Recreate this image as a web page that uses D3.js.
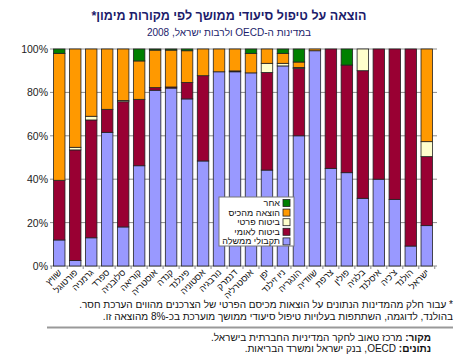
<!DOCTYPE html>
<html>
<head>
<meta charset="utf-8">
<script src="https://cdn.jsdelivr.net/npm/d3@7"></script>
<style>
  body { margin: 0; background: #fff; }
  text { font-family: "Liberation Sans", Arial, sans-serif; }
</style>
</head>
<body>
<script>
// values per country, percent of spending by source
const countries = ["שוויץ", "פורטוגל", "גרמניה", "ספרד", "סלובניה", "קוריאה", "אוסטריה", "קנדה",
    "פינלנד", "אסטוניה", "נורבגיה", "דנמרק", "אוסטרליה", "יפן", "ניו זילנד", "הונגריה",
    "שוודיה", "צרפת", "פולין", "בלגיה", "איסלנד", "צ'כיה", "הולנד", "ישראל"]
const gov         = [12, 2.5, 13, 61.6, 18, 46.2, 81, 82, 77, 48.4, 89.5, 89.5, 89, 44.2, 92.2, 60, 99.2, 45, 43, 31.2, 40, 30.7, 9.2, 18.6]
const nationalIns = [27.5, 51, 54.3, 10.6, 57.7, 30.6, 1.2, 0.5, 7.6, 39.3, 0, 0.4, 0, 45, 0, 31, 0, 55, 49.6, 58.8, 60, 69.3, 90.8, 31.8]
const privateIns  = [0, 1.2, 1.7, 0, 0.6, 0, 0, 0, 0, 0, 0, 0, 0, 4.2, 1.2, 0.5, 0, 0, 0, 10, 0, 0, 0, 6.9]
const outOfPocket = [58.5, 45.3, 31, 27.8, 23.7, 17.7, 17.3, 17, 14.6, 12.3, 10.5, 10.1, 9, 6.6, 4.6, 2.5, 0.8, 0, 0, 0, 0, 0, 0, 42.7]
const other       = [2, 0, 0, 0, 0, 5.5, 0.5, 0.5, 0.8, 0, 0, 0, 2, 0, 2, 6, 0, 0, 7.4, 0, 0, 0, 0, 0]

const seriesKeys = ["gov", "nationalIns", "privateIns", "outOfPocket", "other"]
const seriesNames = ["תקבולי ממשלה", "ביטוח לאומי", "ביטוח פרטי", "הוצאה מהכיס", "אחר"]
const seriesColors = ["#9999ff", "#990033", "#ffffcc", "#ff9900", "#008000"]
const yTicks = [0, 20, 40, 60, 80, 100]

const W = 458, H = 362
const navy = "#1c1c6b"

let rows = countries.map((c, i) => ({
    country: c, gov: gov[i], nationalIns: nationalIns[i], privateIns: privateIns[i],
    outOfPocket: outOfPocket[i], other: other[i]
}))

let svg = d3.select("body")
    .append("svg")
    .attr("width", W)
    .attr("height", H)

let x = d3.scaleBand()
    .domain(countries)
    .range([49, 437])
    .padding(0.28)

let y = d3.scaleLinear()
    .domain([0, 100])
    .range([266, 49])

// title
svg.append("text")
    .attr("x", 229).attr("y", 20)
    .attr("text-anchor", "middle")
    .attr("direction", "rtl")
    .style("font-size", "12.5px")
    .style("font-weight", "bold")
    .style("fill", navy)
    .text("הוצאה על טיפול סיעודי ממושך לפי מקורות מימון*")

svg.append("text")
    .attr("x", 229).attr("y", 35.5)
    .attr("text-anchor", "middle")
    .attr("direction", "rtl")
    .style("font-size", "10px")
    .style("fill", navy)
    .text("במדינות ה-OECD ולרבות ישראל, 2008")

// grid
svg.append("g")
    .selectAll("line")
    .data(yTicks)
    .join("line")
    .attr("x1", 50).attr("x2", 437)
    .attr("y1", d => y(d)).attr("y2", d => y(d))
    .style("stroke", "#8c8c8c")
    .style("stroke-width", 1)

svg.append("g")
    .selectAll("text")
    .data(yTicks)
    .join("text")
    .attr("x", 48)
    .attr("y", d => y(d) + 4)
    .attr("text-anchor", "end")
    .style("font-size", "10.5px")
    .style("fill", "#222")
    .text(d => d + "%")

// small ticks under the baseline
svg.append("g")
    .selectAll("line")
    .data(d3.range(countries.length + 1))
    .join("line")
    .attr("x1", i => 49 + i * x.step() + x.step() * 0.14)
    .attr("x2", i => 49 + i * x.step() + x.step() * 0.14)
    .attr("y1", y(0)).attr("y2", y(0) + 3)
    .style("stroke", "#8c8c8c")

// bars
let stacked = d3.stack().keys(seriesKeys)(rows)

svg.append("g")
    .selectAll("g")
    .data(stacked)
    .join("g")
    .style("fill", (d, i) => seriesColors[i])
    .selectAll("rect")
    .data(d => d.filter(p => p[1] - p[0] > 0))
    .join("rect")
    .attr("x", d => x(d.data.country))
    .attr("y", d => y(d[1]))
    .attr("width", x.bandwidth())
    .attr("height", d => y(d[0]) - y(d[1]))
    .style("stroke", "#222")
    .style("stroke-width", 0.8)

// country labels
svg.append("g")
    .selectAll("text")
    .data(countries)
    .join("text")
    .attr("transform", d => "translate(" + (x(d) + x.bandwidth() / 2 + 3) + "," + (y(0) + 7) + ") rotate(-45)")
    .attr("text-anchor", "end")
    .style("font-size", "9px")
    .style("fill", "#111")
    .text(d => d)

// legend
let lg = svg.append("g")
lg.append("rect")
    .attr("x", 219).attr("y", 197)
    .attr("width", 75).attr("height", 49)
    .style("fill", "#fff")
    .style("stroke", "#777")
    .style("stroke-width", 1)

let order = [4, 3, 2, 1, 0]
order.forEach((s, k) => {
    let cy = 203 + k * 9.6
    lg.append("rect")
        .attr("x", 283).attr("y", cy - 3.5)
        .attr("width", 7).attr("height", 7)
        .style("fill", seriesColors[s])
        .style("stroke", "#222")
        .style("stroke-width", 0.8)
    lg.append("text")
        .attr("x", 280).attr("y", cy + 3)
        .attr("text-anchor", "end")
        .style("font-size", "9px")
        .style("fill", "#111")
        .text(seriesNames[s])
})

// footnote
svg.append("text")
    .attr("x", 453).attr("y", 308)
    .attr("direction", "rtl")
    .attr("text-anchor", "start")
    .style("font-size", "10px")
    .style("fill", "#111")
    .text("* עבור חלק מהמדינות הנתונים על הוצאות מכיסם הפרטי של הצרכנים מהווים הערכת חסר.")

svg.append("text")
    .attr("x", 453).attr("y", 320)
    .attr("direction", "rtl")
    .attr("text-anchor", "start")
    .style("font-size", "10px")
    .style("fill", "#111")
    .text("בהולנד, לדוגמה, השתתפות בעלויות טיפול סיעודי ממושך מוערכת בכ-8% מהוצאה זו.")

svg.append("line")
    .attr("x1", 47).attr("x2", 453)
    .attr("y1", 327.5).attr("y2", 327.5)
    .style("stroke", "#999")
    .style("stroke-width", 2)

let src1 = svg.append("text")
    .attr("x", 431).attr("y", 341)
    .attr("direction", "rtl")
    .attr("text-anchor", "start")
    .style("font-size", "10px")
    .style("fill", "#111")
src1.append("tspan").style("font-weight", "bold").text("מקור:")
src1.append("tspan").text(" מרכז טאוב לחקר המדיניות החברתית בישראל.")

let src2 = svg.append("text")
    .attr("x", 431).attr("y", 351.5)
    .attr("direction", "rtl")
    .attr("text-anchor", "start")
    .style("font-size", "10px")
    .style("fill", "#111")
src2.append("tspan").style("font-weight", "bold").text("נתונים:")
src2.append("tspan").text(" OECD, בנק ישראל ומשרד הבריאות.")
</script>
</body>
</html>
